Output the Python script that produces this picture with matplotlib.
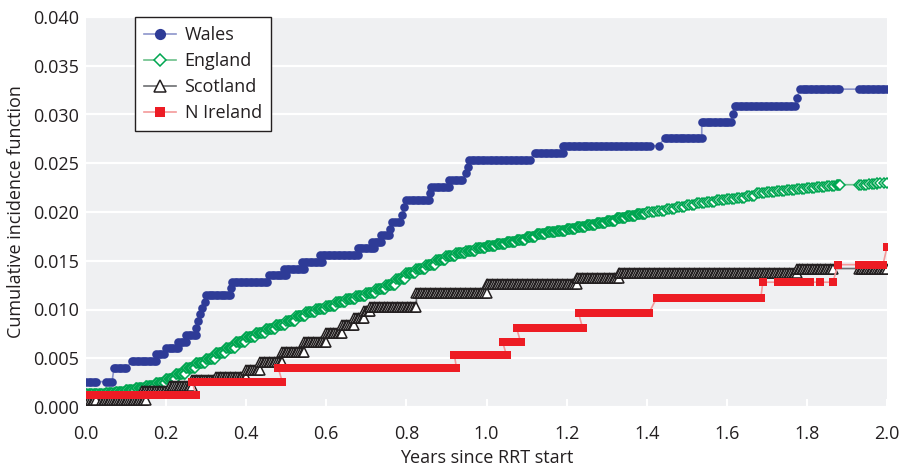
import numpy as np
import matplotlib.pyplot as plt

plt.rcParams['font.family'] = ['Open Sans', 'DejaVu Sans']

# step segments: start x, end x, level
wales_x0 = [0.0, 0.05, 0.07, 0.115, 0.175, 0.2, 0.23, 0.25, 0.275, 0.28, 0.285, 0.29, 0.297,
            0.30, 0.3625, 0.365, 0.4575, 0.495, 0.54, 0.585, 0.678, 0.715, 0.7375, 0.76, 0.765,
            0.79, 0.795, 0.80, 0.86, 0.8625, 0.9075, 0.95, 0.953, 0.9575, 1.12, 1.19, 1.43,
            1.445, 1.5375, 1.615, 1.62, 1.775, 1.783, 1.93]
wales_x1 = [0.025, 0.065, 0.10, 0.175, 0.195, 0.23, 0.25, 0.275, 0.275, 0.28, 0.285, 0.29, 0.297,
            0.36, 0.3625, 0.4525, 0.50, 0.545, 0.59, 0.678, 0.72, 0.7375, 0.7575, 0.76, 0.785,
            0.79, 0.795, 0.8575, 0.86, 0.9075, 0.94, 0.95, 0.953, 1.1075, 1.19, 1.4075, 1.43,
            1.5375, 1.61, 1.615, 1.77, 1.775, 1.88, 2.0]
wales_y = [0.0026, 0.0026, 0.0040, 0.0047, 0.0054, 0.0061, 0.0067, 0.0074, 0.0081, 0.0088,
           0.0095, 0.0102, 0.0108, 0.0115, 0.0122, 0.0128, 0.0135, 0.0142, 0.0149, 0.0156,
           0.0163, 0.0169, 0.0176, 0.0183, 0.0190, 0.0197, 0.0205, 0.0212, 0.0219, 0.0226,
           0.0233, 0.0240, 0.0246, 0.0253, 0.0261, 0.0268, 0.0268, 0.0276, 0.0292, 0.0300,
           0.0309, 0.0317, 0.0326, 0.0326]

# England: level at each step start (steps of 0.025), gap between 1.885 and 1.93
eng_x = [0.0, 0.025, 0.05, 0.075, 0.1, 0.125, 0.15, 0.175, 0.2, 0.225, 0.25, 0.275, 0.3, 0.325,
         0.35, 0.375, 0.4, 0.425, 0.45, 0.475, 0.5, 0.525, 0.55, 0.575, 0.6, 0.625, 0.65, 0.675,
         0.7, 0.725, 0.75, 0.775, 0.8, 0.825, 0.85, 0.875, 0.9, 0.925, 0.95, 0.975, 1.0, 1.025,
         1.05, 1.075, 1.1, 1.125, 1.15, 1.175, 1.2, 1.225, 1.25, 1.275, 1.3, 1.325, 1.35, 1.375,
         1.4, 1.425, 1.45, 1.475, 1.5, 1.525, 1.55, 1.575, 1.6, 1.625, 1.65, 1.675, 1.7, 1.725,
         1.75, 1.775, 1.8, 1.825, 1.85, 1.875, 1.93, 1.955, 1.975]
eng_y = [0.0013, 0.0013, 0.0014, 0.0015, 0.0017, 0.0019, 0.0022, 0.0025, 0.0029, 0.0034, 0.0040,
         0.0045, 0.0049, 0.0055, 0.0061, 0.0067, 0.0072, 0.0076, 0.0080, 0.0084, 0.0088, 0.0093,
         0.0097, 0.0101, 0.0104, 0.0108, 0.0111, 0.0114, 0.0117, 0.0121, 0.0125, 0.0131, 0.0137,
         0.0142, 0.0146, 0.0151, 0.0155, 0.0158, 0.0160, 0.0163, 0.0165, 0.0167, 0.0169, 0.0171,
         0.0174, 0.0177, 0.0179, 0.0181, 0.0183, 0.0185, 0.0187, 0.0189, 0.0191, 0.0194, 0.0196,
         0.0198, 0.0200, 0.0201, 0.0203, 0.0205, 0.0207, 0.0209, 0.0210, 0.0212, 0.0213, 0.0214,
         0.0216, 0.0219, 0.0221, 0.0222, 0.0223, 0.0224, 0.0225, 0.0226, 0.0227, 0.0228, 0.0228,
         0.0229, 0.0230]
eng_end = [1.885, 2.0]  # last marker before the gap / at the end

scot_x0 = [0.0, 0.04, 0.14, 0.21, 0.265, 0.325, 0.4, 0.435, 0.49, 0.545, 0.6, 0.64, 0.67, 0.695,
           0.71, 0.825, 1.0, 1.225, 1.33, 1.775, 1.93]
scot_x1 = [0.025, 0.15, 0.21, 0.265, 0.325, 0.4, 0.435, 0.49, 0.545, 0.6, 0.64, 0.67, 0.695, 0.71,
           0.825, 1.0, 1.225, 1.33, 1.775, 1.865, 2.0]
scot_y = [0.0007, 0.0007, 0.0016, 0.0022, 0.0028, 0.0031, 0.0038, 0.0046, 0.0056, 0.0067, 0.0076,
          0.0084, 0.0091, 0.0098, 0.0103, 0.0117, 0.0126, 0.0132, 0.0137, 0.0142, 0.0142]

nire_x0 = [0.0, 0.045, 0.265, 0.48, 0.92, 1.04, 1.075, 1.12, 1.23, 1.425, 1.69, 1.7275, 1.8075,
           1.8325, 1.865, 1.8775, 1.93, 2.0]
nire_x1 = [0.028, 0.275, 0.49, 0.925, 1.05, 1.085, 1.105, 1.24, 1.405, 1.685, 1.69, 1.79, 1.8075,
           1.8325, 1.865, 1.8775, 1.99, 2.0]
nire_y = [0.0012, 0.0012, 0.0026, 0.0040, 0.0053, 0.0067, 0.0081, 0.0081, 0.0096, 0.0112, 0.0128,
          0.0128, 0.0128, 0.0128, 0.0128, 0.0146, 0.0146, 0.0164]


def build(x0, x1, y, per_unit=130):
    xs, ys = [], []
    for a, b, v in zip(x0, x1, y):
        n = max(1, int(round((b - a) * per_unit)) + 1)
        xs.extend(np.linspace(a, b, n))
        ys.extend([v] * n)
    return np.array(xs), np.array(ys)


# England steps: each runs to the next start
eng_x1 = eng_x[1:] + [eng_end[1]]
eng_x1[eng_x.index(1.875)] = eng_end[0]
eng_xs, eng_ys = [], []
for a, b, v in zip(eng_x, eng_x1, eng_y):
    n = 8 if a < 1.4 else 4
    eng_xs.extend(np.linspace(a, b, n, endpoint=(b - a) > 0.03 or a > 1.95))
    eng_ys.extend([v] * n)

wx, wy = build(wales_x0, wales_x1, wales_y, 160)
sx, sy = build(scot_x0, scot_x1, scot_y, 240)
nx, ny = build(nire_x0, nire_x1, nire_y, 220)

txt = '#231f20'
fig = plt.figure(figsize=(9.02, 4.69), dpi=100)
ax = fig.add_axes([86 / 902, 1 - 407 / 469, 801 / 902, 390 / 469])
ax.set_facecolor('#eff0f2')
for s in ax.spines.values():
    s.set_visible(False)

ax.plot(wx, wy, color='#8c95cb', lw=1.2, marker='o', ms=6.2, mfc='#2e3b97', mec='#2e3b97',
        mew=0, label='Wales')
ax.plot(eng_xs, eng_ys, color='#6cc08a', lw=1.2, marker='D', ms=4.8, mfc='white', mec='#00a651',
        mew=1.1, label='England')
ax.plot(sx, sy, color='#6d6e71', lw=1.2, marker='^', ms=6.8, mfc='white', mec=txt,
        mew=1.1, label='Scotland')
ax.plot(nx, ny, color='#f4999a', lw=1.2, marker='s', ms=5.6, mfc='#ed1c24', mec='#ed1c24',
        mew=0, label='N Ireland')

ax.set_xlim(0, 2.0)
ax.set_ylim(0, 0.04)
ax.set_xticks(np.arange(0, 2.01, 0.2))
ax.set_xticklabels([f'{v:.1f}' for v in np.arange(0, 2.01, 0.2)])
ax.set_yticks(np.arange(0, 0.0401, 0.005))
ax.set_yticklabels([f'{v:.3f}' for v in np.arange(0, 0.0401, 0.005)])
ax.grid(axis='y', color='white', lw=1.6)
ax.set_axisbelow(True)
ax.tick_params(axis='y', length=0, pad=5, labelsize=13, labelcolor=txt)
ax.tick_params(axis='x', direction='in', color='white', length=6, width=1.5, pad=13,
               labelsize=13, labelcolor=txt)
ax.set_xlabel('Years since RRT start', fontsize=13, color=txt, labelpad=4)
ax.set_ylabel('Cumulative incidence function', fontsize=13, color=txt, labelpad=6)

leg = ax.legend(loc='upper left', bbox_to_anchor=(0.061, 1.0), fontsize=13, frameon=True,
                fancybox=False, framealpha=1, edgecolor=txt, markerscale=1.3,
                handlelength=1.8, handletextpad=0.45, labelspacing=0.45, borderpad=0.5,
                borderaxespad=0)
leg.get_frame().set_linewidth(1)
for t in leg.get_texts():
    t.set_color(txt)

fig.savefig('out.png', dpi=100)
